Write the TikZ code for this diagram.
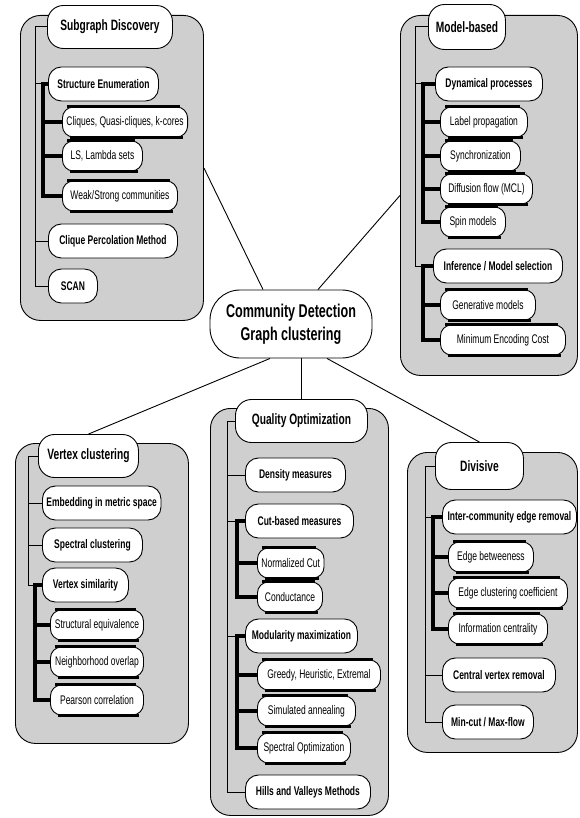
\documentclass[tikz,border=0pt]{standalone}
\usepackage{fontspec}
\setmainfont{Liberation Sans}[FakeStretch=0.68]
\usetikzlibrary{positioning}

\begin{document}
\begin{tikzpicture}[x=1pt,y=-1pt,
	panel/.style={draw, line width=0.9pt, fill=black!19, rounded corners=20pt, inner sep=0pt, anchor=north west},
	box/.style={draw, line width=0.9pt, fill=white, anchor=west, align=center, inner xsep=4pt, inner ysep=0pt},
	head/.style={box, minimum height=43pt, rounded corners=16pt, font=\bfseries\fontsize{15}{17}\selectfont},
	mid/.style={box, minimum height=34pt, rounded corners=13pt, font=\bfseries\fontsize{12.5}{14}\selectfont},
	leaf/.style={box, minimum height=30pt, rounded corners=11pt, font=\fontsize{12.5}{14}\selectfont,
		append after command={([xshift=5pt]\tikzlastnode.north west) edge[line width=3.2pt] ([xshift=-8pt]\tikzlastnode.north east)
			([xshift=8pt]\tikzlastnode.south west) edge[line width=3.2pt] ([xshift=-5pt]\tikzlastnode.south east)}},
	trunk/.style={line width=1pt},
	twig/.style={line width=3.2pt},
	link/.style={line width=0.9pt}]
				\useasboundingbox (0,0) rectangle (579,818);
				
				\node[panel, minimum width=183pt, minimum height=305pt] (sdp) at (20,15) {};
				\node[panel, minimum width=177pt, minimum height=360pt] (mbp) at (400,15) {};
				\node[panel, minimum width=173pt, minimum height=300pt] (vcp) at (15,443) {};
				\node[panel, minimum width=178pt, minimum height=407pt] (qop) at (210,408) {};
				\node[panel, minimum width=170pt, minimum height=300pt] (dvp) at (407,452) {};
				
				\node[draw, line width=0.9pt, fill=white, rounded corners=30pt, minimum width=162pt, minimum height=68pt, align=center, font=\bfseries\fontsize{18.5}{23}\selectfont] (cdg) at (291,324) {Community Detection\\Graph clustering};
				
				\node[head, minimum width=125pt] (sd) at (47,27) {Subgraph Discovery};
				\node[mid, minimum width=110pt] (se) at (48,84) {Structure Enumeration};
				\node[leaf, minimum width=124pt] (cq) at (62,122) {Cliques, Quasi-cliques, k-cores};
				\node[leaf, minimum width=80pt] (ls) at (62,156) {LS, Lambda sets};
				\node[leaf, minimum width=115pt] (ws) at (62,196) {Weak/Strong communities};
				\node[mid, minimum width=129pt] (cpm) at (48,241) {Clique Percolation Method};
				\node[mid, minimum width=49pt] (scan) at (48,286) {SCAN};
				
				\node[head, minimum width=77pt, minimum height=45pt] (mb) at (428,27) {Model-based};
				\node[mid, minimum width=107pt] (dp) at (435,84) {Dynamical processes};
				\node[leaf, minimum width=87pt] (lp) at (440,122) {Label propagation};
				\node[leaf, minimum width=80pt] (sy) at (440,156) {Synchronization};
				\node[leaf, minimum width=92pt] (df) at (440,189) {Diffusion flow (MCL)};
				\node[leaf, minimum width=65pt] (sm) at (440,222) {Spin models};
				\node[mid, minimum width=129pt] (im) at (433,266) {Inference / Model selection};
				\node[leaf, minimum width=95pt] (gm) at (440,305) {Generative models};
				\node[leaf, minimum width=125pt] (mec) at (440,340) {Minimum Encoding Cost};
				
				\node[head, minimum width=100pt] (vc) at (38,456) {Vertex clustering};
				\node[mid, minimum width=115pt] (emb) at (42,503) {Embedding in metric space};
				\node[mid, minimum width=100pt] (spc) at (42,545) {Spectral clustering};
				\node[mid, minimum width=86pt] (vs) at (42,585) {Vertex similarity};
				\node[leaf, minimum width=93pt] (seq) at (50,625) {Structural equivalence};
				\node[leaf, minimum width=93pt] (nov) at (50,662) {Neighborhood overlap};
				\node[leaf, minimum width=93pt] (pc) at (50,700) {Pearson correlation};
				
				\node[head, minimum width=132pt] (qo) at (235,421) {Quality Optimization};
				\node[mid, minimum width=100pt] (dm) at (245,475) {Density measures};
				\node[mid, minimum width=108pt] (cbm) at (245,521) {Cut-based measures};
				\node[leaf, minimum width=66pt] (nc) at (257,563) {Normalized Cut};
				\node[leaf, minimum width=65pt] (cdc) at (257,597) {Conductance};
				\node[mid, minimum width=112pt] (mm) at (245,636) {Modularity maximization};
				\node[leaf, minimum width=123pt] (gh) at (257,675) {Greedy, Heuristic, Extremal};
				\node[leaf, minimum width=98pt] (sa) at (257,711) {Simulated annealing};
				\node[leaf, minimum width=93pt] (so) at (257,748) {Spectral Optimization};
				\node[mid, minimum width=125pt] (hv) at (245,792) {Hills and Valleys Methods};
				
				\node[head, minimum width=88pt, minimum height=47pt] (dv) at (435,466) {Divisive};
				\node[mid, minimum width=134pt] (ic) at (442,517) {Inter-community edge removal};
				\node[leaf, minimum width=85pt] (eb) at (448,557) {Edge betweeness};
				\node[leaf, minimum width=119pt] (ec) at (448,593) {Edge clustering coefficient};
				\node[leaf, minimum width=99pt] (inc) at (448,629) {Information centrality};
				\node[mid, minimum width=113pt] (cvr) at (442,675) {Central vertex removal};
				\node[mid, minimum width=91pt] (mc) at (442,722) {Min-cut / Max-flow};
				
				\draw[link] ([xshift=-28pt]cdg.north) -- (sdp.east);
				\draw[link] ([xshift=27pt]cdg.north) -- (mbp.west);
				\draw[link] ([xshift=-21pt]cdg.south) -- (vc.north);
				\draw[link] (cdg.south -| qo.north) -- (qo.north);
				\draw[link] ([xshift=36pt]cdg.south) -- (dv.north);
				
				\coordinate (sda) at (35,0);
				\coordinate (sdb) at (43,0);
				\draw[trunk] (sd.west) -| (sda |- scan.west) -- (scan.west);
				\foreach \n in {se,cpm} \draw[trunk] (sda |- \n.west) -- (\n.west);
				\draw[twig] (se.west) -| (sdb |- ws.west) -- (ws.west);
				\foreach \n in {cq,ls} \draw[twig] (sdb |- \n.west) -- (\n.west);
				
				\coordinate (mba) at (415,0);
				\coordinate (mbb) at (423,0);
				\draw[trunk] (mb.west) -| (mba |- im.west) -- (im.west);
				\draw[trunk] (mba |- dp.west) -- (dp.west);
				\draw[twig] (dp.west) -| (mbb |- sm.west) -- (sm.west);
				\foreach \n in {lp,sy,df} \draw[twig] (mbb |- \n.west) -- (\n.west);
				\draw[twig] (im.west) -| (mbb |- mec.west) -- (mec.west);
				\draw[twig] (mbb |- gm.west) -- (gm.west);
				
				\coordinate (vca) at (28,0);
				\coordinate (vcb) at (35,0);
				\draw[trunk] (vc.west) -| (vca |- vs.west) -- (vs.west);
				\foreach \n in {emb,spc} \draw[trunk] (vca |- \n.west) -- (\n.west);
				\draw[twig] (vs.west) -| (vcb |- pc.west) -- (pc.west);
				\foreach \n in {seq,nov} \draw[twig] (vcb |- \n.west) -- (\n.west);
				
				\coordinate (qoa) at (227,0);
				\coordinate (qob) at (237,0);
				\draw[trunk] (qo.west) -| (qoa |- hv.west) -- (hv.west);
				\foreach \n in {dm,cbm,mm} \draw[trunk] (qoa |- \n.west) -- (\n.west);
				\draw[twig] (cbm.west) -| (qob |- cdc.west) -- (cdc.west);
				\draw[twig] (qob |- nc.west) -- (nc.west);
				\draw[twig] (mm.west) -| (qob |- so.west) -- (so.west);
				\foreach \n in {gh,sa} \draw[twig] (qob |- \n.west) -- (\n.west);
				
				\coordinate (dva) at (425,0);
				\coordinate (dvb) at (433,0);
				\draw[trunk] (dv.west) -| (dva |- mc.west) -- (mc.west);
				\foreach \n in {ic,cvr} \draw[trunk] (dva |- \n.west) -- (\n.west);
				\draw[twig] (ic.west) -| (dvb |- inc.west) -- (inc.west);
				\foreach \n in {eb,ec} \draw[twig] (dvb |- \n.west) -- (\n.west);
			\end{tikzpicture}
\end{document}
